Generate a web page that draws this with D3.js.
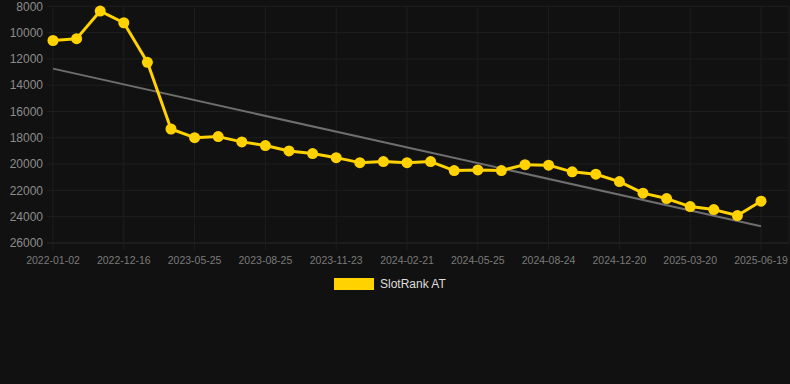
<!DOCTYPE html>
<html>
<head>
<meta charset="utf-8">
<script src="https://cdn.jsdelivr.net/npm/d3@7"></script>
<style>
  html, body { margin: 0; padding: 0; background: #111111; }
  svg { display: block; font-family: "Liberation Sans", Arial, sans-serif; }
</style>
</head>
<body>
<svg id="chart" width="790" height="384"></svg>
<script>
// one label per point, only every 3rd one is shown on the axis
const dates = [
  "2022-01-02", "", "", "2022-12-16", "", "", "2023-05-25", "", "", "2023-08-25",
  "", "", "2023-11-23", "", "", "2024-02-21", "", "", "2024-05-25", "",
  "", "2024-08-24", "", "", "2024-12-20", "", "", "2025-03-20", "", "",
  "2025-06-19"
];
const rankValues = [
  10600, 10460, 8360, 9250, 12260, 17330, 17990, 17910, 18310, 18590,
  19000, 19200, 19510, 19890, 19810, 19890, 19810, 20490, 20440, 20490,
  20040, 20080, 20590, 20770, 21330, 22210, 22620, 23230, 23460, 23910,
  22820
];
const yTicks = [8000, 10000, 12000, 14000, 16000, 18000, 20000, 22000, 24000, 26000];
const seriesName = "SlotRank AT";

const svg = d3.select("#chart");
const yellow = "#ffd200";

const x = d3.scalePoint(d3.range(rankValues.length), [53, 761]);
const y = d3.scaleLinear([8000, 26000], [6.3, 243]);

// grid
const grid = svg.append("g");
grid.selectAll("line.h")
  .data(yTicks)
  .enter()
  .append("line")
    .attr("x1", 47).attr("x2", 789)
    .attr("y1", d => y(d)).attr("y2", d => y(d))
    .attr("stroke", d => d == 26000 ? "#2a2a2a" : "#1e1e1e")
    .attr("stroke-width", 1);

const shown = d3.range(dates.length).filter(i => dates[i] != "");
grid.selectAll("line.v")
  .data(shown)
  .enter()
  .append("line")
    .attr("x1", i => x(i)).attr("x2", i => x(i))
    .attr("y1", 6).attr("y2", 250)
    .attr("stroke", "#1e1e1e");
grid.append("line")
  .attr("x1", 789).attr("x2", 789).attr("y1", 6).attr("y2", 243)
  .attr("stroke", "#1e1e1e");

// y labels
svg.append("g")
  .selectAll("text")
  .data(yTicks)
  .enter()
  .append("text")
    .attr("x", 43)
    .attr("y", d => y(d))
    .attr("dy", "0.35em")
    .attr("text-anchor", "end")
    .attr("fill", "#8c8c8c")
    .style("font-size", "12px")
    .text(d => d);

// x labels
svg.append("g")
  .selectAll("text")
  .data(shown)
  .enter()
  .append("text")
    .attr("x", i => x(i))
    .attr("y", 260)
    .attr("dy", "0.35em")
    .attr("text-anchor", "middle")
    .attr("fill", "#7a7a7a")
    .style("font-size", "10.5px")
    .text(i => dates[i]);

// linear trend from the values
const n = rankValues.length;
const mx = d3.mean(d3.range(n));
const my = d3.mean(rankValues);
const slope = d3.sum(rankValues, (v, i) => (i - mx) * (v - my)) / d3.sum(d3.range(n), i => (i - mx) ** 2);
const icpt = my - slope * mx;
svg.append("line")
  .attr("x1", x(0)).attr("y1", y(icpt))
  .attr("x2", x(n - 1)).attr("y2", y(icpt + slope * (n - 1)))
  .attr("stroke", "#6e6e6e")
  .attr("stroke-width", 2);

// series
const line = d3.line()
  .x((d, i) => x(i))
  .y(d => y(d));
svg.append("path")
  .datum(rankValues)
  .attr("d", line)
  .attr("fill", "none")
  .attr("stroke", yellow)
  .attr("stroke-width", 3)
  .attr("stroke-linejoin", "round");
svg.append("g")
  .selectAll("circle")
  .data(rankValues)
  .enter()
  .append("circle")
    .attr("cx", (d, i) => x(i))
    .attr("cy", d => y(d))
    .attr("r", 5.5)
    .attr("fill", yellow);

// legend
const legend = svg.append("g");
legend.append("rect")
  .attr("x", 334).attr("y", 278)
  .attr("width", 40).attr("height", 12)
  .attr("fill", yellow);
legend.append("text")
  .attr("x", 380).attr("y", 284)
  .attr("dy", "0.35em")
  .attr("fill", "#dddddd")
  .style("font-size", "12px")
  .text(seriesName);
</script>
</body>
</html>
